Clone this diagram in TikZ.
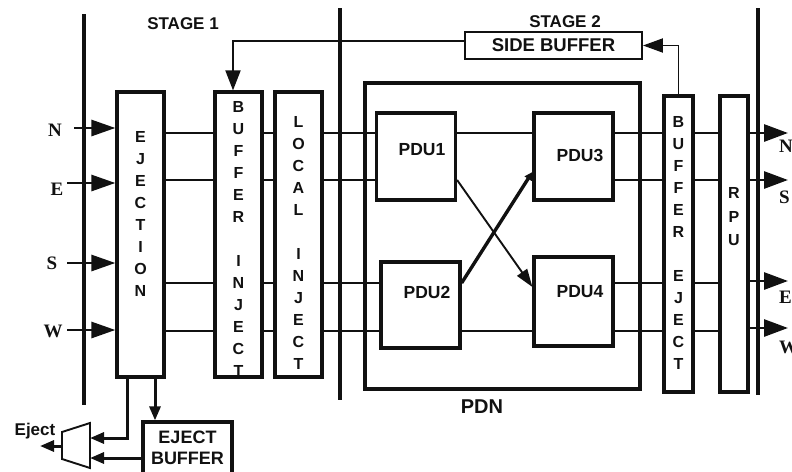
\documentclass[tikz,border=0pt]{standalone}
\usepackage{fontspec}
\setmainfont{Liberation Serif}
\setsansfont{Liberation Sans}
\usepackage{tikz}
\usetikzlibrary{arrows.meta, positioning, calc}
\definecolor{Ink}{HTML}{111111}

\begin{document}
\begin{tikzpicture}[
  x=1pt, y=-1pt,
  font=\sffamily\bfseries, draw=Ink, text=Ink,
  unit/.style={draw=Ink, line width=3.2pt, inner sep=0pt, minimum width=47pt, minimum height=285pt},
  thin unit/.style={unit, minimum width=29pt, minimum height=296pt},
  letters/.style={inner sep=0pt, align=center, font=\fontsize{16}{22}\selectfont\sffamily\bfseries},
  pdu/.style={draw=Ink, line width=3.2pt, inner sep=0pt, minimum width=79pt, minimum height=87pt},
  pdutext/.style={inner sep=0pt, font=\fontsize{17.5}{20}\selectfont\sffamily\bfseries},
  title/.style={inner sep=0pt, font=\fontsize{17}{20}\selectfont\sffamily\bfseries},
  compass/.style={inner sep=0pt, font=\fontsize{19}{20}\selectfont\rmfamily\bfseries},
  wire/.style={draw=Ink, line width=1.9pt},
  bus/.style={draw=Ink, line width=3pt},
  divider/.style={draw=Ink, line width=3.2pt},
  inarrow/.style={draw=Ink, line width=2.8pt, -{Triangle[length=24pt,width=16pt]}},
  outarrow/.style={draw=Ink, line width=2.8pt, -{Triangle[length=24pt,width=17pt]}},
  small arrow/.style={-{Triangle[length=14pt,width=11pt]}}
]
\useasboundingbox (0,0) rectangle (792,471);
\clip (0,0) rectangle (792,471);

% lanes
\coordinate (y1) at (0,133);
\coordinate (y2) at (0,180);
\coordinate (y3) at (0,283);
\coordinate (y4) at (0,331);

% stage dividers
\draw[divider] (84,14) -- (84,405);
\draw[divider] (340,8) -- (340,400);
\draw[divider] (758,8) -- (758,395);

\node[title] (stage1) at (183,24) {STAGE 1};
\node[title] (stage2) at (565,22) {STAGE 2};

% stage 1
\node[unit] (eject) at (140.5,234.5) {};
\node[letters] (ejecttxt) at (140.5,214) {E\\J\\E\\C\\T\\I\\O\\N};
\node[unit] (binj) at (238.5,234.5) {};
\node[letters] (binjtxt) at (238.5,238.5) {B\\U\\F\\F\\E\\R\\[22pt]I\\N\\J\\E\\C\\T};
\node[unit] (linj) at (298.5,234.5) {};
\node[letters] (linjtxt) at (298.5,242.5) {L\\O\\C\\A\\L\\[22pt]I\\N\\J\\E\\C\\T};

% inputs
\node[compass] (inNlab) at (55,130) {N};
\node[compass] (inElab) at (57,189) {E};
\node[compass] (inSlab) at (52,263) {S};
\node[compass] (inWlab) at (53,331) {W};
\coordinate (inN) at (74,128);
\coordinate (inE) at (67,183);
\coordinate (inS) at (67,263);
\coordinate (inW) at (67,330);
\foreach \c in {inN,inE,inS,inW}
  \draw[inarrow] (\c) -- (\c -| eject.west);

% stage 2
\node[draw=Ink, line width=3.2pt, minimum width=275pt, minimum height=306pt, inner sep=0pt] (pdn) at (502.5,236) {};
\node[font=\fontsize{20}{22}\selectfont\sffamily\bfseries, inner sep=0pt] (pdnlab) at (482,407) {PDN};
\node[pdu] (pdu1) at (416,156.5) {};
\node[pdu] (pdu3) at (573.5,156.5) {};
\node[pdu, minimum height=86pt] (pdu2) at (420.5,305) {};
\node[pdu, minimum height=89pt] (pdu4) at (573.5,301.5) {};
\node[pdutext] at (422,150) {PDU1};
\node[pdutext] at (580,155) {PDU3};
\node[pdutext] at (427,292) {PDU2};
\node[pdutext] at (580,292) {PDU4};

\node[thin unit] (beject) at (678.5,244) {};
\node[letters] (bejecttxt) at (678.5,243) {B\\U\\F\\F\\E\\R\\[22pt]E\\J\\E\\C\\T};
\node[thin unit, minimum width=28pt] (rpu) at (734,244) {};
\node[letters, font=\fontsize{16}{23.5}\selectfont\sffamily\bfseries] (rputxt) at (734,217) {R\\P\\U};

\node[draw=Ink, line width=1.9pt, minimum width=177pt, minimum height=27pt, inner sep=0pt,
  font=\fontsize{18.5}{20}\selectfont\sffamily\bfseries] (sidebuf) at (553.5,45.5) {SIDE BUFFER};

% lanes through the router
\foreach \l in {y1,y2,y3,y4} {
  \draw[wire] (eject.east |- \l) -- (binj.west |- \l);
  \draw[wire] (binj.east |- \l) -- (linj.west |- \l);
  \draw[wire] (beject.east |- \l) -- (rpu.west |- \l);
}
\foreach \l/\p in {y1/pdu1, y2/pdu1, y3/pdu2, y4/pdu2}
  \draw[wire] (linj.east |- \l) -- (\p.west |- \l);
\foreach \l/\p in {y1/pdu3, y2/pdu3, y3/pdu4, y4/pdu4}
  \draw[wire] (\p.east |- \l) -- (beject.west |- \l);
\draw[wire] (pdu1.east |- y1) -- (pdu3.west |- y1);
\draw[wire] (pdu2.east |- y4) -- (pdu4.west |- y4);

% crossing
\coordinate (x4) at (0,287);
\coordinate (x3) at (0,172);
\draw[wire, -{Triangle[length=18pt,width=12pt]}] (pdu1.east |- y2) -- (pdu4.west |- x4);
\draw[bus, line width=3.4pt, -{Triangle[length=8pt,width=8pt]}] (pdu2.east |- y3) -- (pdu3.west |- x3);

% outputs
\coordinate (outN) at (788,133);
\coordinate (outS) at (788,180);
\coordinate (outE) at (788,281);
\coordinate (outW) at (788,328);
\foreach \c in {outN,outS,outE,outW}
  \draw[outarrow] (rpu.east |- \c) -- (\c);
\node[compass, anchor=west] at (779,146) {N};
\node[compass, anchor=west] at (779,197) {S};
\node[compass, anchor=west] at (779,297) {E};
\node[compass, anchor=west] at (779,347) {W};

% side buffer loop
\coordinate (sbturn) at (233,41);
\draw[wire, -{Triangle[length=20pt,width=14pt]}] (beject.north) |- (sidebuf.east);
\draw[wire, -{Triangle[length=20pt,width=15pt]}] (sidebuf.west |- sbturn) -- (sbturn) -- (sbturn |- binj.north);

% ejection path
\node[draw=Ink, line width=3.2pt, minimum width=89pt, minimum height=52pt, inner sep=0pt, align=center,
  font=\fontsize{18}{21}\selectfont\sffamily\bfseries] (ejbuf) at (187.5,448) {EJECT\\BUFFER};
\coordinate (muxA) at (90,438);
\coordinate (muxB) at (90,458);
\coordinate (muxOut) at (62,446);
\coordinate (ejOut) at (40,446);
\draw[line width=1.9pt] (62,432) -- (90,423) -- (90,468) -- (62,459) -- cycle;
\draw[bus, small arrow] ([xshift=14.5pt]eject.south) -- ([xshift=14.5pt]eject.south |- ejbuf.north);
\draw[bus, small arrow] ([xshift=-13.5pt]eject.south) |- (muxA);
\draw[bus, small arrow] (ejbuf.west |- muxB) -- (muxB);
\draw[bus, small arrow] (muxOut) -- (ejOut);
\node[inner sep=0pt, font=\fontsize{17}{20}\selectfont\sffamily\bfseries] (ejlab) at (35,431) {Eject};
\end{tikzpicture}
\end{document}
